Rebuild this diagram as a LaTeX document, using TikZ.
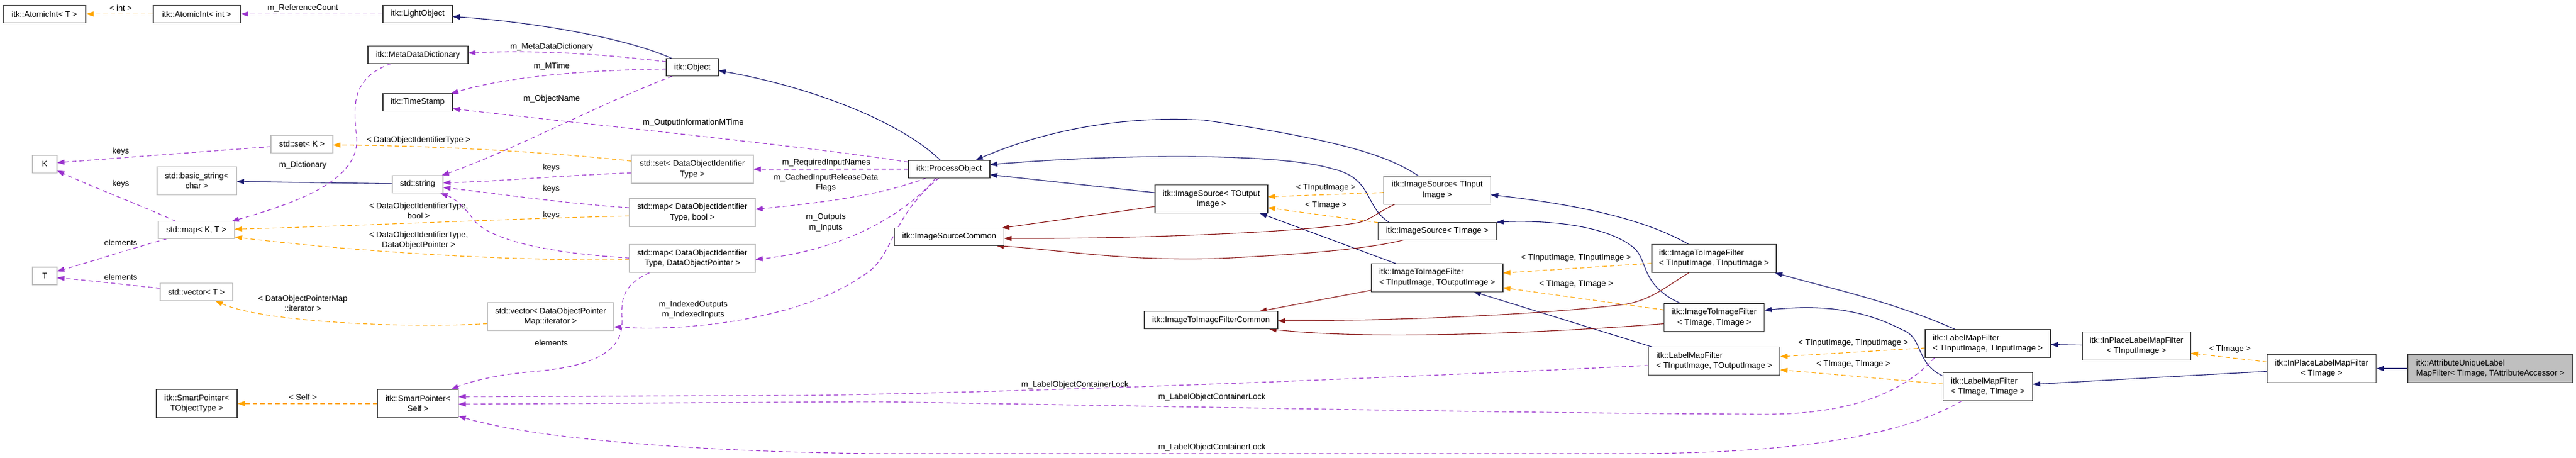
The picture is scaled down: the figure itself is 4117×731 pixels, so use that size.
\documentclass[tikz,border=0pt]{standalone}
\usepackage{fontspec}
\setmainfont{Liberation Sans}
\usetikzlibrary{arrows.meta,backgrounds}
\definecolor{inhc}{HTML}{191970}
\definecolor{protc}{HTML}{8B1A1A}
\definecolor{usec}{HTML}{9A32CD}
\definecolor{tmplc}{HTML}{FFA500}
\definecolor{boxc}{HTML}{404040}
\definecolor{grayb}{HTML}{BFBFBF}
\begin{document}
\begin{tikzpicture}[x=1pt,y=-1pt,
  cls/.style={draw=boxc,line width=1.3pt,inner sep=0pt,minimum height=28pt,align=center,font=\fontsize{13}{16.5}\selectfont,fill=white},
  two/.style={minimum height=45pt},
  ext/.style={cls,draw=grayb},
  lbl/.style={align=center,inner sep=0pt,font=\fontsize{13}{16.5}\selectfont},
  tip/.style={-{Triangle[length=12pt,width=8pt]}},
  inh/.style={tip,draw=inhc,line width=1.1pt},
  prot/.style={tip,draw=protc,line width=1.1pt},
  use/.style={tip,draw=usec,line width=1.1pt,dash pattern=on 7pt off 5pt},
  tmpl/.style={tip,draw=tmplc,line width=1.1pt,dash pattern=on 7pt off 5pt}]
\useasboundingbox (0,0) rectangle (4117,731);
% nodes
\node[cls,minimum width=132pt] (aT) at (71,22.4) {itk::AtomicInt< T >};
\node[cls,minimum width=139pt] (aInt) at (314.5,22.4) {itk::AtomicInt< int >};
\node[cls,minimum width=111pt] (light) at (667.5,22.4) {itk::LightObject};
\node[cls,minimum width=160pt] (mdd) at (668,87.7) {itk::MetaDataDictionary};
\node[cls,minimum width=111pt] (ts) at (667.5,163.6) {itk::TimeStamp};
\node[ext,minimum width=99pt] (setK) at (482.5,230.3) {std::set< K >};
\node[ext,minimum width=39pt] (K) at (71.5,262.5) {K};
\node[ext,two,minimum width=127pt] (bstr) at (314.5,289) {std::basic\_string<\\char >};
\node[ext,minimum width=81pt] (str) at (667.5,294.6) {std::string};
\node[ext,minimum width=122pt] (mapKT) at (314,367.8) {std::map< K, T >};
\node[ext,minimum width=39pt] (T) at (71.5,441) {T};
\node[ext,minimum width=116pt] (vecT) at (314,466.7) {std::vector< T >};
\node[cls,two,minimum width=129pt] (spT) at (314.5,645) {itk::SmartPointer<\\TObjectType >};
\node[cls,two,minimum width=129pt] (spS) at (668,645) {itk::SmartPointer<\\Self >};
\node[cls,minimum width=83pt] (obj) at (1106.5,107.7) {itk::Object};
\node[ext,two,minimum width=195pt] (setD) at (1106.5,270.4) {std::set< DataObjectIdentifier\\Type >};
\node[ext,two,minimum width=201pt] (mapB) at (1106.5,339.6) {std::map< DataObjectIdentifier\\Type, bool >};
\node[ext,two,minimum width=201pt] (mapP) at (1106.5,413.3) {std::map< DataObjectIdentifier\\Type, DataObjectPointer >};
\node[ext,two,minimum width=202pt] (vecD) at (880,506.3) {std::vector< DataObjectPointer\\Map::iterator >};
\node[cls,minimum width=130pt] (po) at (1517,270.2) {itk::ProcessObject};
\node[cls,minimum width=175pt] (isc) at (1517,378.5) {itk::ImageSourceCommon};
\node[cls,two,minimum width=180pt] (isO) at (1936,318) {itk::ImageSource< TOutput\\Image >};
\node[cls,minimum width=213pt] (iic) at (1935.5,511.7) {itk::ImageToImageFilterCommon};
\node[cls,two,minimum width=171pt] (isI) at (2297,303.7) {itk::ImageSource< TInput\\Image >};
\node[cls,minimum width=189pt] (isT) at (2297,369.2) {itk::ImageSource< TImage >};
\node[cls,two,minimum width=210pt,align=left] (iiO) at (2297,443.8) {itk::ImageToImageFilter\\< TInputImage, TOutputImage >};
\node[cls,two,minimum width=199pt,align=left] (iiI) at (2739.5,413.3) {itk::ImageToImageFilter\\< TInputImage, TInputImage >};
\node[cls,two,minimum width=160pt] (iiT) at (2739.8,507.4) {itk::ImageToImageFilter\\< TImage, TImage >};
\node[cls,two,minimum width=210pt,align=left] (lmO) at (2739.8,577) {itk::LabelMapFilter\\< TInputImage, TOutputImage >};
\node[cls,two,minimum width=200pt,align=left] (lmI) at (3177,549) {itk::LabelMapFilter\\< TInputImage, TInputImage >};
\node[cls,two,minimum width=143pt,align=left] (lmT) at (3177,618.2) {itk::LabelMapFilter\\< TImage, TImage >};
\node[cls,two,minimum width=173pt] (ipI) at (3414.5,553) {itk::InPlaceLabelMapFilter\\< TInputImage >};
\node[cls,two,minimum width=174pt] (ipT) at (3710.4,589) {itk::InPlaceLabelMapFilter\\< TImage >};
\node[cls,two,minimum width=264pt,align=left,fill=grayb] (att) at (3980,589) {itk::AttributeUniqueLabel\\MapFilter< TImage, TAttributeAccessor >};
\begin{pgfonlayer}{background}
% inheritance
\draw[inh] ([shift={(-32,-14)}]obj.center) .. controls (1000,60) and (850,35) .. ([shift={(55.5,4)}]light.center);
\draw[inh] ([shift={(-14,-14)}]po.center) .. controls (1440,195) and (1300,140) .. ([shift={(41.5,5)}]obj.center);
\draw[inh] ([shift={(-30,-22.5)}]isI.center) .. controls (2220,250) and (2150,225) .. (1925,192) .. controls (1760,182) and (1630,225) .. ([shift={(42,-14)}]po.center);
\draw[inh] ([shift={(-77,-14)}]isT.center) .. controls (2180,330) and (2195,285) .. (2130,270) .. controls (2050,245) and (1800,245) .. ([shift={(65,-7)}]po.center);
\draw[inh] ([shift={(-90,-10)}]isO.center) -- ([shift={(65,9)}]po.center);
\draw[inh] ([shift={(-40.5,-1)}]str.center) -- ([shift={(63.5,1)}]bstr.center);
\draw[inh] ([shift={(-66,-22.5)}]iiO.center) -- ([shift={(77,22.5)}]isO.center);
\draw[inh] ([shift={(-40,-22.5)}]iiI.center) .. controls (2620,345) and (2500,325) .. ([shift={(85.5,7.5)}]isI.center);
\draw[inh] ([shift={(-54,-22.5)}]iiT.center) .. controls (2620,455) and (2635,415) .. (2610,395) .. controls (2560,355) and (2450,352) .. ([shift={(94.5,-14)}]isT.center);
\draw[inh] ([shift={(-99,-22.5)}]lmO.center) -- ([shift={(58,22.5)}]iiO.center);
\draw[inh] ([shift={(-52,-22.5)}]lmI.center) .. controls (3020,480) and (2920,460) .. ([shift={(97,22.5)}]iiI.center);
\draw[inh] ([shift={(-71.5,-17)}]lmT.center) .. controls (3060,580) and (3075,540) .. (3040,527) .. controls (2960,485) and (2880,490) .. ([shift={(80,-11.5)}]iiT.center);
\draw[inh] ([shift={(-86.5,-1.5)}]ipI.center) -- ([shift={(100,1.5)}]lmI.center);
\draw[inh] ([shift={(-87,4.5)}]ipT.center) -- ([shift={(71.5,-4)}]lmT.center);
\draw[inh] (att.west) -- (ipT.east);
% protected inheritance
\draw[prot] ([shift={(-90,12)}]isO.center) -- ([shift={(84,-14)}]isc.center);
\draw[prot] ([shift={(-67,22.5)}]isI.center) .. controls (2200,340) and (2190,352) .. (2170,356) .. controls (2080,372) and (1800,382) .. ([shift={(87.5,2.5)}]isc.center);
\draw[prot] ([shift={(-52.5,14)}]isT.center) .. controls (2180,400) and (2050,408) .. (1950,413) .. controls (1800,418) and (1700,400) .. ([shift={(75,14)}]isc.center);
\draw[prot] ([shift={(-105,20)}]iiO.center) -- ([shift={(77,-14)}]iic.center);
\draw[prot] ([shift={(-40,22.5)}]iiI.center) .. controls (2660,460) and (2640,478) .. (2600,486) .. controls (2450,505) and (2200,513) .. ([shift={(106.5,1)}]iic.center);
\draw[prot] ([shift={(-80,10)}]iiT.center) .. controls (2500,530) and (2200,545) .. ([shift={(92.5,14)}]iic.center);
% template instantiation
\draw[tmpl] (aInt.west) -- (aT.east);
\draw[tmpl] ([shift={(-97.5,-13)}]setD.center) .. controls (850,240) and (650,232) .. ([shift={(49.5,1.5)}]setK.center);
\draw[tmpl] ([shift={(-100.5,5.5)}]mapB.center) .. controls (800,350) and (600,360) .. ([shift={(61,-1.5)}]mapKT.center);
\draw[tmpl] ([shift={(-100.5,1.5)}]mapP.center) .. controls (800,418) and (550,400) .. ([shift={(61,11)}]mapKT.center);
\draw[tmpl] ([shift={(-101,11)}]vecD.center) .. controls (650,525) and (420,515) .. ([shift={(30,14)}]vecT.center);
\draw[tmpl] (spS.west) -- (spT.east);
\draw[tmpl] ([shift={(-85.5,4)}]isI.center) -- ([shift={(90,-3.5)}]isO.center);
\draw[tmpl] ([shift={(-94.5,-13.5)}]isT.center) -- ([shift={(90,14)}]isO.center);
\draw[tmpl] ([shift={(-99.5,7.5)}]iiI.center) -- ([shift={(105,-7.5)}]iiO.center);
\draw[tmpl] ([shift={(-80,-12)}]iiT.center) -- ([shift={(105,16)}]iiO.center);
\draw[tmpl] ([shift={(-100,7)}]lmI.center) -- ([shift={(105,-7)}]lmO.center);
\draw[tmpl] ([shift={(-71.5,-4.5)}]lmT.center) -- ([shift={(105,14)}]lmO.center);
\draw[tmpl] ([shift={(-87,-10.5)}]ipT.center) -- ([shift={(86.5,11.5)}]ipI.center);
% usage
\draw[use] (light.west) -- (aInt.east);
\draw[use] ([shift={(-41.5,-9)}]obj.center) .. controls (950,85) and (850,80) .. ([shift={(80,-3)}]mdd.center);
\draw[use] ([shift={(-41.5,2.5)}]obj.center) .. controls (950,112) and (820,120) .. ([shift={(53,-14)}]ts.center);
\draw[use] ([shift={(-32,14)}]obj.center) .. controls (950,170) and (820,240) .. ([shift={(38,-14)}]str.center);
\draw[use] ([shift={(-65,-11)}]po.center) .. controls (1300,235) and (950,200) .. ([shift={(55.5,10)}]ts.center);
\draw[use] ([shift={(-65,0)}]po.center) -- ([shift={(97.5,0)}]setD.center);
\draw[use] ([shift={(-36,14)}]po.center) .. controls (1400,315) and (1300,325) .. ([shift={(100.5,-5)}]mapB.center);
\draw[use] ([shift={(-21,14)}]po.center) .. controls (1440,350) and (1340,400) .. ([shift={(100.5,1.5)}]mapP.center);
\draw[use] ([shift={(-16,14)}]po.center) .. controls (1420,350) and (1430,410) .. (1380,440) .. controls (1280,510) and (1100,530) .. ([shift={(101,16)}]vecD.center);
\draw[use] ([shift={(-49.5,4)}]setK.center) -- ([shift={(19.5,-2.5)}]K.center);
\draw[use] ([shift={(-33,-14)}]mapKT.center) .. controls (230,330) and (150,300) .. ([shift={(19.5,10)}]K.center);
\draw[use] ([shift={(-48,14)}]mapKT.center) .. controls (200,400) and (140,420) .. ([shift={(19.5,-7.5)}]T.center);
\draw[use] ([shift={(-58,-6)}]vecT.center) .. controls (200,455) and (140,448) .. ([shift={(19.5,3)}]T.center);
\draw[use] ([shift={(-43,14)}]mdd.center) .. controls (560,125) and (565,170) .. (570,220) .. controls (575,290) and (470,325) .. ([shift={(56,-14)}]mapKT.center);
\draw[use] ([shift={(-97.5,6)}]setD.center) .. controls (900,280) and (800,290) .. ([shift={(40.5,-2.5)}]str.center);
\draw[use] ([shift={(-100.5,-7.5)}]mapB.center) .. controls (900,325) and (800,310) .. ([shift={(40.5,5)}]str.center);
\draw[use] ([shift={(-100.5,-1)}]mapP.center) .. controls (880,405) and (790,385) .. (760,355) .. controls (745,335) and (730,318) .. ([shift={(36,14)}]str.center);
\draw[use] ([shift={(-68.5,22.5)}]mapP.center) .. controls (985,460) and (995,490) .. (994,520) .. controls (990,580) and (900,590) .. (840,595) .. controls (790,600) and (750,610) .. ([shift={(53,-22.5)}]spS.center);
\draw[use] ([shift={(-105,7)}]lmO.center) .. controls (2200,605) and (1700,625) .. (1300,632) -- ([shift={(64.5,-11)}]spS.center);
\draw[use] ([shift={(-85,22.5)}]lmI.center) .. controls (3040,630) and (2950,665) .. (2800,662) .. controls (2400,660) and (1900,650) .. (1400,642) -- ([shift={(64.5,1)}]spS.center);
\draw[use] ([shift={(-41.5,22.5)}]lmT.center) .. controls (3050,690) and (2900,725) .. (2600,725) -- (1400,725) .. controls (1100,722) and (850,700) .. ([shift={(64.5,20)}]spS.center);
\end{pgfonlayer}
% labels
\node[lbl] (l1) at (193,12.6) {< int >};
\node[lbl] (l2) at (484,12.6) {m\_ReferenceCount};
\node[lbl] (l3) at (881.7,75.5) {m\_MetaDataDictionary};
\node[lbl] (l4) at (881.7,106.3) {m\_MTime};
\node[lbl] (l5) at (881.7,158.5) {m\_ObjectName};
\node[lbl] (l6) at (1108,196.3) {m\_OutputInformationMTime};
\node[lbl] (l7) at (669,224) {< DataObjectIdentifierType >};
\node[lbl] (l8) at (193,242.4) {keys};
\node[lbl] (l9) at (193,294.6) {keys};
\node[lbl] (l10) at (484,264.3) {m\_Dictionary};
\node[lbl] (l11) at (669,337) {< DataObjectIdentifierType,\\bool >};
\node[lbl] (l12) at (669,384) {< DataObjectIdentifierType,\\DataObjectPointer >};
\node[lbl] (l13) at (193,388) {elements};
\node[lbl] (l14) at (193,442.4) {elements};
\node[lbl] (l15) at (484,485) {< DataObjectPointerMap\\::iterator >};
\node[lbl] (l16) at (484,635) {< Self >};
\node[lbl] (l17) at (881,268.5) {keys};
\node[lbl] (l18) at (881,302.5) {keys};
\node[lbl] (l19) at (881,344.5) {keys};
\node[lbl] (l20) at (881,548) {elements};
\node[lbl] (l21) at (1320.5,260) {m\_RequiredInputNames};
\node[lbl] (l22) at (1320,292) {m\_CachedInputReleaseData\\Flags};
\node[lbl] (l23) at (1320,356) {m\_Outputs\\m\_Inputs};
\node[lbl] (l24) at (1108,495) {m\_IndexedOutputs\\m\_IndexedInputs};
\node[lbl] (l25) at (2119,300.7) {< TInputImage >};
\node[lbl] (l26) at (2119,328.7) {< TImage >};
\node[lbl] (l27) at (2519,412.6) {< TInputImage, TInputImage >};
\node[lbl] (l28) at (2519,454.5) {< TImage, TImage >};
\node[lbl] (l29) at (2962,548.7) {< TInputImage, TInputImage >};
\node[lbl] (l30) at (2962,582.8) {< TImage, TImage >};
\node[lbl] (l31) at (3564,558.5) {< TImage >};
\node[lbl] (l32) at (1718,615.4) {m\_LabelObjectContainerLock};
\node[lbl] (l33) at (1937,635.4) {m\_LabelObjectContainerLock};
\node[lbl] (l34) at (1937,715.6) {m\_LabelObjectContainerLock};
\end{tikzpicture}
\end{document}
